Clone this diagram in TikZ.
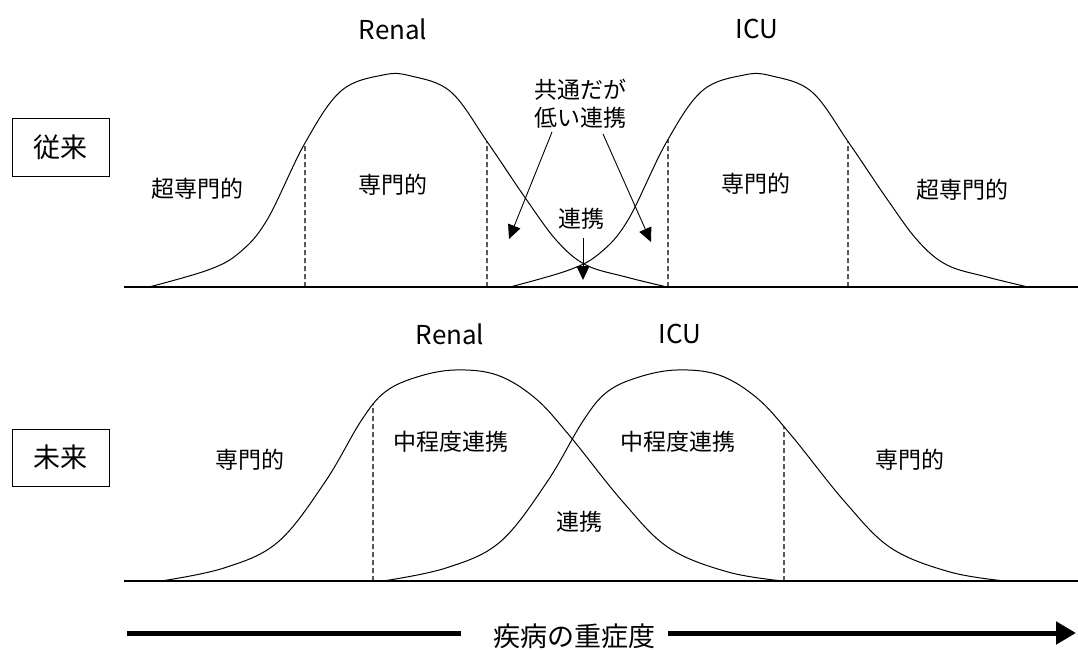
\documentclass[tikz,border=0pt]{standalone}
\usepackage{fontspec}
\setmainfont{Noto Sans CJK JP}
\usetikzlibrary{arrows.meta,intersections}
\begin{document}
\begin{tikzpicture}[x=1pt,y=-1pt,
  lbl/.style={inner sep=0pt, font=\fontsize{23}{28}\selectfont, align=center},
  hdr/.style={inner sep=0pt, font=\fontsize{26}{30}\selectfont},
  tag/.style={draw, line width=1pt, minimum width=97pt, minimum height=57pt, inner sep=0pt, font=\fontsize{27}{30}\selectfont},
  curve/.style={line width=1pt},
  base/.style={line width=1.3pt},
  divider/.style={line width=1.2pt, dash pattern=on 5pt off 3pt},
  ptr/.style={line width=0.9pt, -{Triangle[length=14pt,width=13pt]}},
  axis/.style={line width=5pt},
]
\useasboundingbox (0,0) rectangle (1078,650);

% ---------- top panel ----------
\node[tag] (old) at (60.5,147.5) {従来};
\draw[base] (124,287) -- (1078,287);
\draw[curve, name path=r1, shift={(149,287)}] plot[smooth, tension=0.6] coordinates
  {(0,0) (59,-17) (90,-34) (118,-67) (156,-144) (192,-196) (234,-212) (262,-211) (302,-195) (339,-144) (377,-88) (408,-46) (437,-22) (477,-10) (518,0)};
\draw[curve, name path=i1, shift={(510,287)}] plot[smooth, tension=0.6] coordinates
  {(0,0) (59,-17) (90,-34) (118,-67) (156,-144) (192,-196) (234,-212) (262,-211) (302,-195) (339,-144) (377,-88) (408,-46) (437,-22) (477,-10) (518,0)};
\path[name path=v1] (305,290) -- (305,40);
\path[name path=v2] (487,290) -- (487,40);
\path[name path=v3] (668,290) -- (668,40);
\path[name path=v4] (848,290) -- (848,40);
\path[name intersections={of=r1 and v1, by=d1}];
\path[name intersections={of=r1 and v2, by=d2}];
\path[name intersections={of=i1 and v3, by=d3}];
\path[name intersections={of=i1 and v4, by=d4}];
\coordinate (e1) at (305,287);
\coordinate (e2) at (487,287);
\coordinate (e3) at (668,287);
\coordinate (e4) at (848,287);
\draw[divider] (e1) -- (d1);
\draw[divider] (e2) -- (d2);
\draw[divider] (e3) -- (d3);
\draw[divider] (e4) -- (d4);

\node[hdr] (renalA) at (393,29) {Renal};
\node[hdr] (icuA) at (757,29) {ICU};
\node[lbl] (t1) at (197,189) {超専門的};
\node[lbl] (t2) at (393,185) {専門的};
\node[lbl] (t3) at (581,219) {連携};
\node[lbl] (t4) at (756,184) {専門的};
\node[lbl] (t5) at (962,190) {超専門的};
\node[lbl] (t6) at (580,104) {共通だが\\低い連携};

\coordinate (s1) at (552,132);
\coordinate (h1) at (509,239);
\coordinate (s2) at (603,134);
\coordinate (h2) at (651,242);
\coordinate (s3) at (583,238);
\coordinate (h3) at (583,280);
\draw[ptr] (s1) -- (h1);
\draw[ptr] (s2) -- (h2);
\draw[ptr] (s3) -- (h3);

% ---------- bottom panel ----------
\node[tag] (new) at (60.5,457.5) {未来};
\draw[base] (124,581) -- (1078,581);
\draw[curve, name path=r2, shift={(161,581)}] plot[smooth, tension=0.6] coordinates
  {(0,0) (63,-13) (117,-39) (164,-99) (200,-160) (224,-189) (256,-204) (294,-211) (336,-206) (374,-183) (408,-146) (462,-79) (508,-33) (567,-9) (622,0)};
\draw[curve, name path=i2, shift={(383,581)}] plot[smooth, tension=0.6] coordinates
  {(0,0) (63,-13) (117,-39) (164,-99) (200,-160) (224,-189) (256,-204) (294,-211) (336,-206) (374,-183) (408,-146) (462,-79) (508,-33) (567,-9) (622,0)};
\path[name path=v5] (373,584) -- (373,340);
\path[name path=v6] (784,584) -- (784,340);
\path[name intersections={of=r2 and v5, by=d5}];
\path[name intersections={of=i2 and v6, by=d6}];
\coordinate (e5) at (373,581);
\coordinate (e6) at (784,581);
\draw[divider] (e5) -- (d5);
\draw[divider] (e6) -- (d6);

\node[hdr] (renalB) at (450,334) {Renal};
\node[hdr] (icuB) at (680,334) {ICU};
\node[lbl] (b1) at (250,460) {専門的};
\node[lbl] (b2) at (451,442) {中程度連携};
\node[lbl] (b3) at (678,442) {中程度連携};
\node[lbl] (b4) at (579,522) {連携};
\node[lbl] (b5) at (910,460) {専門的};

% ---------- axis ----------
\node[inner sep=0pt, font=\fontsize{27}{30}\selectfont] (sev) at (574,636) {疾病の重症度};
\coordinate (a0) at (127,633);
\coordinate (a1) at (461,633);
\coordinate (a2) at (668,633);
\coordinate (a3) at (1076,633);
\draw[axis] (a0) -- (a1);
\draw[axis, -{Triangle[length=20pt,width=22pt]}] (a2) -- (a3);
\end{tikzpicture}
\end{document}
